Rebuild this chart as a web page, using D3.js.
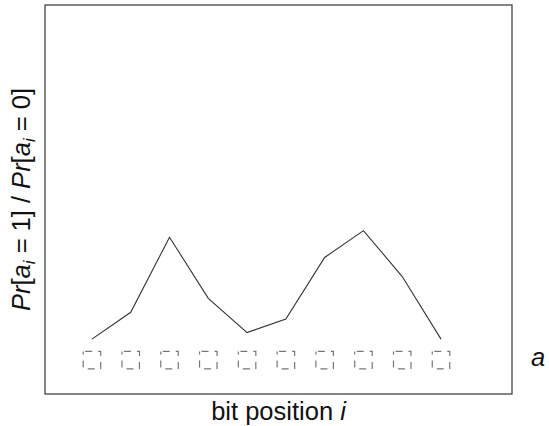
<!DOCTYPE html>
<html><head><meta charset="utf-8">
<script src="https://cdn.jsdelivr.net/npm/d3@7"></script>
<style>body{margin:0;background:#fff}svg{display:block}</style>
</head><body>
<svg id="c" width="549" height="426"></svg>
<script>
const positions = [1,2,3,4,5,6,7,8,9,10];
const ratioValues = [1.41,2.10,4.03,2.46,1.58,1.93,3.51,4.20,3.02,1.41];
const boxLevel = 0.87;
const xDomain = [-0.21, 11.83];
const yDomain = [0, 10];

const svg = d3.select("#c");
const L = 45, R = 512, T = 5, B = 394;
const x = d3.scaleLinear().domain(xDomain).range([L, R]);
const y = d3.scaleLinear().domain(yDomain).range([B, T]);
const font = "'Liberation Sans', Arial, Helvetica, sans-serif";

svg.append("rect").attr("x", L).attr("y", T).attr("width", R - L).attr("height", B - T)
  .attr("fill", "none").attr("stroke", "#444").attr("stroke-width", 1.3);

const line = d3.line().x((d, i) => x(positions[i])).y(d => y(d));
svg.append("path").datum(ratioValues).attr("d", line)
  .attr("fill", "none").attr("stroke", "#333").attr("stroke-width", 1.1);

const bs = 17.5;
svg.selectAll("rect.box").data(positions).join("rect").attr("class", "box")
  .attr("x", d => x(d) - bs / 2).attr("y", y(boxLevel) - bs / 2)
  .attr("width", bs).attr("height", bs)
  .attr("fill", "none").attr("stroke", "#777").attr("stroke-width", 1.2)
  .attr("stroke-dasharray", "7,6").attr("stroke-dashoffset", -2);

// x label
const xl = svg.append("text").attr("x", (L + R) / 2).attr("y", 420)
  .attr("text-anchor", "middle").attr("font-family", font).attr("font-size", 25.5).attr("fill", "#111");
xl.append("tspan").text("bit position ");
xl.append("tspan").attr("font-style", "italic").text("i");

// y label
const yl = svg.append("text").attr("transform", `translate(30,${(T + B) / 2}) rotate(-90)`)
  .attr("text-anchor", "middle").attr("font-family", font).attr("font-size", 25.5).attr("fill", "#111");
const parts = [
  ["Pr", "italic", 0], ["[", "normal", 0], ["a", "italic", 0], ["i", "italic", 1],
  [" = 1] / ", "normal", -1], ["Pr", "italic", 0], ["[", "normal", 0], ["a", "italic", 0], ["i", "italic", 1], [" = 0]", "normal", -1]
];
parts.forEach(([t, st, sub]) => {
  const ts = yl.append("tspan").attr("font-style", st).text(t);
  if (sub === 1) ts.attr("font-size", 17).attr("dy", 5);
  if (sub === -1) ts.attr("dy", -5);
});

svg.append("text").attr("x", 531).attr("y", 366).attr("font-family", font)
  .attr("font-size", 25.5).attr("font-style", "italic").attr("fill", "#111").text("a");
</script>
</body></html>
